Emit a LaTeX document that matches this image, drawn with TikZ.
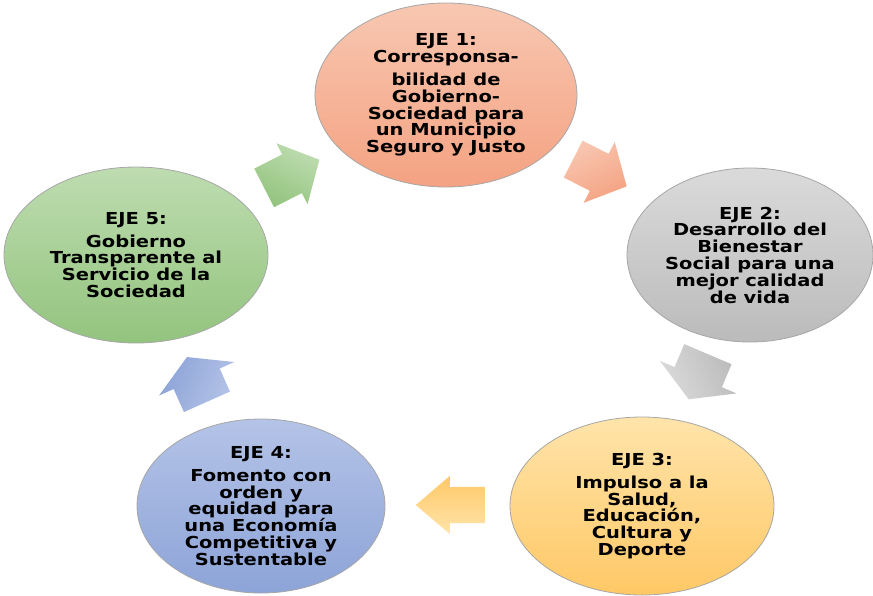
\documentclass[tikz,border=0pt]{standalone}
\usepackage{fontspec}
\newfontfamily\ejefont[FakeStretch=1.18]{DejaVu Sans}
\usetikzlibrary{shapes,positioning}

\definecolor{rosaA}{HTML}{F8C7B1}
\definecolor{rosaB}{HTML}{F4A282}
\definecolor{grisA}{HTML}{DADADA}
\definecolor{grisB}{HTML}{BBBBBB}
\definecolor{amarA}{HTML}{FFE4AA}
\definecolor{amarB}{HTML}{FFC866}
\definecolor{azulA}{HTML}{B4C3E7}
\definecolor{azulB}{HTML}{8DA4D8}
\definecolor{verdeA}{HTML}{BEDCB0}
\definecolor{verdeB}{HTML}{93C47E}

\begin{document}
\begin{tikzpicture}[x=1pt,y=-1pt,every node/.style={inner sep=0pt},
  eje/.style={ellipse,draw=gray!70,line width=0.8pt,align=center,
    font=\ejefont\bfseries\fontsize{16.5}{16.8}\selectfont},
  flecha/.style={single arrow,single arrow head indent=0pt,draw=none,anchor=tail,inner xsep=0pt}]
\useasboundingbox (0,0) rectangle (873,595);
%
\node (e1) [eje,minimum width=262pt,minimum height=184pt,top color=rosaA,bottom color=rosaB] at (446,95)
  {EJE 1:\\ Corresponsa-\\[6pt] bilidad de\\ Gobierno-\\ Sociedad para\\ un Municipio\\ Seguro y Justo};
\node (e2) [eje,minimum width=246pt,minimum height=174pt,top color=grisA,bottom color=grisB] at (750,255)
  {EJE 2:\\ Desarrollo del\\ Bienestar\\ Social para una\\ mejor calidad\\ de vida};
\node (e3) [eje,minimum width=264pt,minimum height=178pt,top color=amarA,bottom color=amarB] at (642,506)
  {EJE 3:\\[6pt] Impulso a la\\ Salud,\\ Educación,\\ Cultura y\\ Deporte};
\node (e4) [eje,minimum width=248pt,minimum height=174pt,top color=azulA,bottom color=azulB] at (261,506)
  {EJE 4:\\[6pt] Fomento con\\ orden y\\ equidad para\\ una Economía\\ Competitiva y\\ Sustentable};
\node (e5) [eje,minimum width=264pt,minimum height=176pt,top color=verdeA,bottom color=verdeB] at (136,255)
  {EJE 5:\\[6pt] Gobierno\\ Transparente al\\ Servicio de la\\ Sociedad};
%
\node (f12) [flecha,rotate=-27,minimum height=60pt,inner ysep=20.5pt,single arrow head extend=13.5pt,
  single arrow tip angle=96,top color=rosaA,bottom color=rosaB,shading angle=27] at (573,159) {};
\node (f23) [flecha,rotate=-113,minimum height=49pt,inner ysep=25.5pt,single arrow head extend=16pt,
  single arrow tip angle=120,top color=grisA,bottom color=grisB,shading angle=113] at (708,354) {};
\node (f34) [flecha,rotate=180,minimum height=69pt,inner ysep=18pt,single arrow head extend=11pt,
  single arrow tip angle=81,top color=amarA,bottom color=amarB,shading angle=-180] at (485,505) {};
\node (f45) [flecha,rotate=114,minimum height=49pt,inner ysep=25pt,single arrow head extend=16pt,
  single arrow tip angle=120,top color=azulA,bottom color=azulB,shading angle=-114] at (207,402) {};
\node (f51) [flecha,rotate=27,minimum height=62pt,inner ysep=21.5pt,single arrow head extend=12.5pt,
  single arrow tip angle=96,top color=verdeA,bottom color=verdeB,shading angle=-27] at (264,188) {};
%
\end{tikzpicture}
\end{document}
